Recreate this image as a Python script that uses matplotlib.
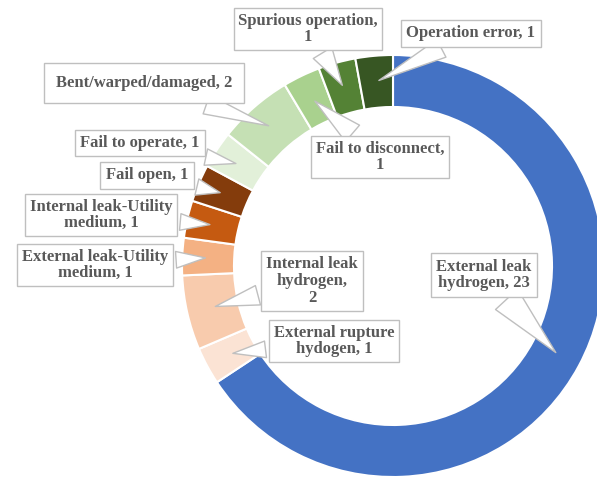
import matplotlib
matplotlib.use("Agg")
import numpy as np
import matplotlib.pyplot as plt

# ── data ────────────────────────────────────────────────────────────────
categories = [
    "External leak\nhydrogen, 23",
    "External rupture\nhydogen, 1",
    "Internal leak\nhydrogen,\n2",
    "External leak-Utility\nmedium, 1",
    "Internal leak-Utility\nmedium, 1",
    "Fail open, 1",
    "Fail to operate, 1",
    "Bent/warped/damaged, 2",
    "Fail to disconnect,\n1",
    "Spurious operation,\n1",
    "Operation error, 1",
]
counts = [23, 1, 2, 1, 1, 1, 1, 2, 1, 1, 1]
colors = [
    "#4472C4", "#FBE3D4", "#F8CBAD", "#F4B183", "#C55A11", "#843C0C",
    "#E2F0D9", "#C5E0B4", "#A9D18E", "#548235", "#375623",
]

# ── layout (image pixels, y measured from top) ──────────────────────────
W, H = 597, 480
CX, CY = 393, 266
R_OUT, RING = 211, 52
# box centre x, y, bbox pad, tip radius, pointer width
label_pos = [
    (484, 275, 0.33, 187, 1.8),
    (334, 341, 0.30, 185, 1.0),
    (312, 281, 0.30, 185, 1.2),
    (95, 265, 0.28, 185, 1.0),
    (101, 215, 0.28, 185, 1.0),
    (147, 175, 0.33, 185, 1.0),
    (140, 143, 0.30, 185, 1.0),
    (144, 83, 0.72, 185, 1.2),
    (380, 157, 0.30, 185, 1.3),
    (308, 29, 0.28, 185, 1.3),
    (471, 33, 0.33, 185, 1.2),
]

fig = plt.figure(figsize=(W / 100, H / 100), dpi=100)
ax = fig.add_axes([0, 0, 1, 1])

wedges, _ = ax.pie(
    counts, colors=colors, startangle=90, counterclock=False,
    radius=R_OUT, center=(CX, H - CY),
    wedgeprops=dict(width=RING, edgecolor="white", linewidth=1.5),
)
ax.set_xlim(0, W)
ax.set_ylim(0, H)
ax.set_aspect("equal")
ax.axis("off")

for w, text, (bx, by, pad, rt, tw) in zip(wedges, categories, label_pos):
    ang = np.deg2rad((w.theta1 + w.theta2) / 2)
    tip = (CX + rt * np.cos(ang), H - CY + rt * np.sin(ang))
    ax.annotate(
        text, xy=tip, xytext=(bx, H - by),
        ha="center", va="center", multialignment="center",
        fontsize=12, fontweight="bold", family="Liberation Serif",
        color="#595959", linespacing=1.05,
        bbox=dict(boxstyle=f"square,pad={pad}", fc="white",
                  ec="#BFBFBF", lw=1.0),
        arrowprops=dict(arrowstyle=f"wedge,tail_width={tw},shrink_factor=0.5",
                        fc="white", ec="#BFBFBF", lw=1.0),
    )

fig.savefig("out.png", dpi=100)
